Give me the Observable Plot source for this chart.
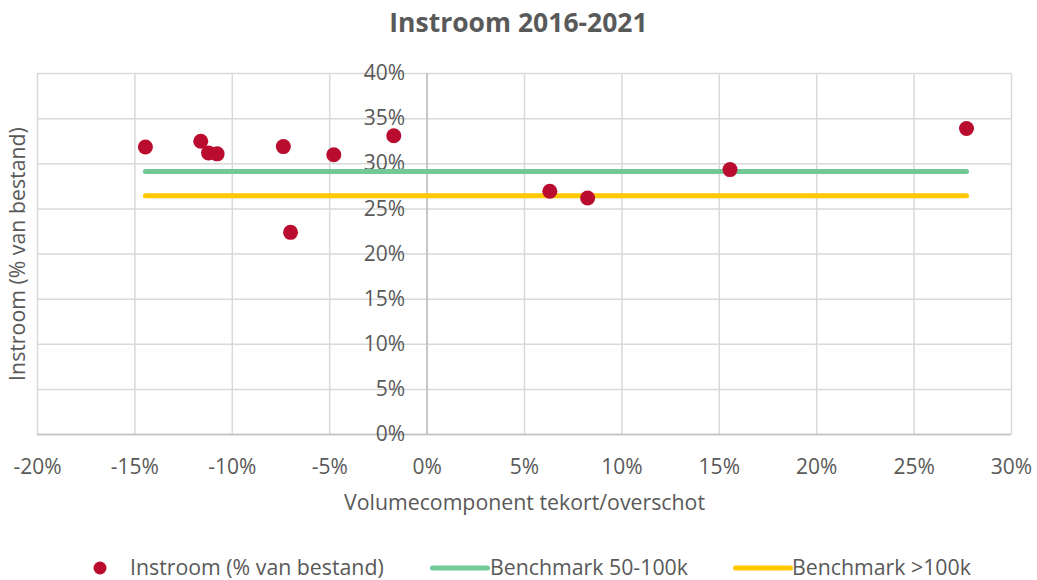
<!DOCTYPE html>
<html>
<head>
<meta charset="utf-8">
<script src="https://cdn.jsdelivr.net/npm/d3@7"></script>
<script src="https://cdn.jsdelivr.net/npm/@observablehq/plot@0.6"></script>
<style>
  html, body { margin: 0; padding: 0; background: #fff; }
  body { width: 1037px; height: 580px; position: relative; overflow: hidden; font-family: "Open Sans", sans-serif; color: #595959; }
  #title { position: absolute; left: 0; width: 1037px; top: 4px; line-height: 36px; text-align: center; font-size: 26.5px; font-weight: 700; color: #595959; }
  #chart { position: absolute; left: 0; top: 45px; }
  .leg { position: absolute; top: 556px; height: 22px; line-height: 22px; font-size: 21.3px; color: #595959; white-space: nowrap; }
  .sw { position: absolute; }
</style>
</head>
<body>
<div id="title">Instroom 2016-2021</div>
<div id="chart"></div>
<div id="legend"></div>
<script>
// Data (values in %)
const volumecomponent = [-14.46, -11.62, -11.22, -10.78, -7.38, -7.01, -4.79, -1.71, 6.30, 8.24, 15.55, 27.69];
const instroom        = [31.85, 32.5, 31.2, 31.1, 31.9, 22.4, 31.0, 33.1, 26.95, 26.2, 29.35, 33.9];
const benchmark50_100k = 29.15;
const benchmark100kPlus = 26.45;
const xTicks = [-20, -15, -10, -5, 0, 5, 10, 15, 20, 25, 30];
const yTicks = [0, 5, 10, 15, 20, 25, 30, 35, 40];
const seriesNames = ["Instroom (% van bestand)", "Benchmark 50-100k", "Benchmark >100k"];
const colors = ["#BA0C2F", "#72C995", "#FFC800"];

const points = volumecomponent.map((x, i) => ({x, y: instroom[i]}));
const xExt = d3.extent(volumecomponent);
const benchLines = [
  ...xExt.map(x => ({x, y: benchmark50_100k, s: seriesNames[1]})),
  ...xExt.map(x => ({x, y: benchmark100kPlus, s: seriesNames[2]}))
];
const pct = d => d + "%";
const txt = "#595959";

const chart = Plot.plot({
  width: 1037,
  height: 485,
  marginLeft: 37,
  marginRight: 26,
  marginTop: 28,
  marginBottom: 96,
  style: {fontFamily: "Open Sans", color: txt, background: "transparent", overflow: "visible"},
  x: {domain: [-20, 30]},
  y: {domain: [0, 40], axis: null},
  color: {domain: seriesNames.slice(1), range: colors.slice(1)},
  marks: [
    Plot.gridX(xTicks, {stroke: "#d9d9d9", strokeOpacity: 1, strokeWidth: 1.5}),
    Plot.gridY(yTicks, {stroke: "#d9d9d9", strokeOpacity: 1, strokeWidth: 1.5}),
    Plot.ruleX([0], {stroke: "#bfbfbf", strokeWidth: 1.5}),
    Plot.ruleY([0], {stroke: "#bfbfbf", strokeWidth: 1.5}),
    Plot.axisX(xTicks, {tickSize: 0, tickPadding: 25, tickFormat: pct, fontSize: 21, fill: txt, label: null}),
    Plot.text(yTicks, {x: () => 0, y: d => d, text: pct, textAnchor: "end", dx: -22, fontSize: 21, fill: txt}),
    Plot.text(["Volumecomponent tekort/overschot"], {frameAnchor: "bottom", lineAnchor: "middle", textAnchor: "middle", dy: 69, fontSize: 21.3, fill: txt}),
    Plot.text(["Instroom (% van bestand)"], {frameAnchor: "left", lineAnchor: "middle", textAnchor: "middle", dx: -19, rotate: -90, fontSize: 21.3, fill: txt}),
    Plot.line(benchLines, {x: "x", y: "y", z: "s", stroke: "s", strokeWidth: 5, strokeLinecap: "round"}),
    Plot.dot(points, {x: "x", y: "y", r: 7.5, fill: colors[0], stroke: "none"})
  ]
});
document.getElementById("chart").appendChild(chart);

// Legend
const legend = document.getElementById("legend");
const items = [
  {name: seriesNames[0], type: "dot", color: colors[0], sx: 93, tx: 130},
  {name: seriesNames[1], type: "line", color: colors[1], sx: 430, tx: 490},
  {name: seriesNames[2], type: "line", color: colors[2], sx: 733, tx: 792}
];
for (const it of items) {
  const sw = document.createElementNS("http://www.w3.org/2000/svg", "svg");
  sw.setAttribute("class", "sw");
  if (it.type === "dot") {
    sw.setAttribute("width", 14); sw.setAttribute("height", 14);
    sw.style.left = it.sx + "px"; sw.style.top = "561px";
    sw.innerHTML = `<circle cx="7" cy="7" r="6.5" fill="${it.color}"/>`;
  } else {
    sw.setAttribute("width", 60); sw.setAttribute("height", 8);
    sw.style.left = it.sx + "px"; sw.style.top = "564px";
    sw.innerHTML = `<line x1="2.5" y1="4" x2="57.5" y2="4" stroke="${it.color}" stroke-width="5" stroke-linecap="round"/>`;
  }
  legend.appendChild(sw);
  const t = document.createElement("div");
  t.className = "leg";
  t.style.left = it.tx + "px";
  t.textContent = it.name;
  legend.appendChild(t);
}
</script>
</body>
</html>
